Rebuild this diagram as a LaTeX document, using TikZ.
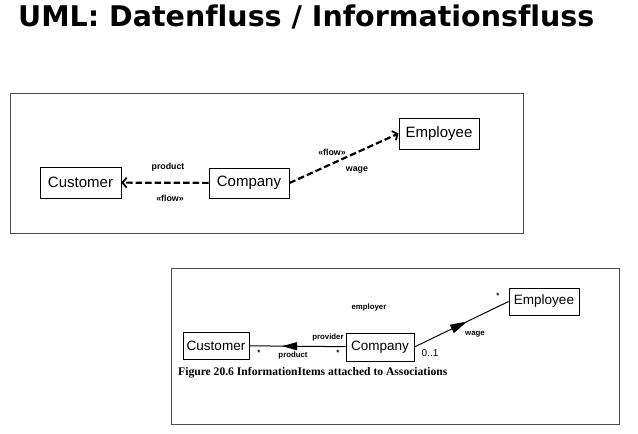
\documentclass[tikz,border=0pt]{standalone}
\usepackage{fontspec}
\setmainfont{Liberation Sans}
\newfontfamily\titlefont[Ligatures=NoCommon]{DejaVu Sans}
\newfontfamily\capfont{Liberation Serif}
\usetikzlibrary{arrows.meta,decorations.markings}

\begin{document}
\begin{tikzpicture}[x=1pt, y=-1pt,
  class/.style={draw, inner sep=0pt, line width=0.9pt, font=\fontsize{15}{15}\selectfont},
  small class/.style={draw, inner sep=0pt, line width=0.8pt, font=\fontsize{13.5}{13.5}\selectfont},
  lbl/.style={inner sep=0pt, font=\bfseries\fontsize{8.8}{9}\selectfont},
  small lbl/.style={inner sep=0pt, font=\bfseries\fontsize{7.8}{8}\selectfont},
  frame/.style={draw=black!70, line width=0.8pt},
  flow/.style={line width=2.2pt, dash pattern=on 6.5pt off 3pt,
               -{Straight Barb[length=4pt,width=10pt,line width=1.8pt]}},
  assoc/.style={line width=1pt, postaction={decorate}}]

\useasboundingbox (0,0) rectangle (638,434);

% title
\node[anchor=base west, inner sep=0pt, font=\titlefont\bfseries\fontsize{28.5}{30}\selectfont]
  (title) at (18,26) {UML: Datenfluss / Informationsfluss};

% information flow
\draw[frame] (10,93) rectangle (523,233);

\node[class, minimum width=81pt, minimum height=31pt] (customer) at (80.5,182.5) {Customer};
\node[class, minimum width=80pt, minimum height=30pt] (company) at (249,183) {Company};
\node[class, minimum width=80pt, minimum height=31pt] (employee) at (439,133.5) {Employee};

\draw[flow] (company) -- (customer);
\draw[flow] (company.east) -- (employee.west);

\node[lbl] (product) at (168,167) {product};
\node[lbl] (flowa) at (170,198) {«flow»};
\node[lbl] (flowb) at (332,152) {«flow»};
\node[lbl] (wage) at (357,170) {wage};

% information items on associations
\draw[frame] (171,268) rectangle (619,424);

\node[small class, minimum width=66pt, minimum height=27pt] (customer2) at (216,345.5) {Customer};
\node[small class, minimum width=68pt, minimum height=28pt] (company2) at (380,347) {Company};
\node[small class, minimum width=70pt, minimum height=27pt] (employee2) at (544,301.5) {Employee};

\draw[assoc, decoration={markings,
    mark=at position 0.66 with {\arrow{Triangle[length=15pt,width=8pt]}}}]
  (company2) -- (customer2);
\draw[assoc, decoration={markings,
    mark=at position 0.56 with {\arrow{Triangle[length=17pt,width=9pt]}}}]
  (company2.east) -- (employee2.west);

\node[small lbl] (provider) at (328,337) {provider};
\node[small lbl] (product2) at (293,355) {product};
\node[small lbl] (stara) at (259,353) {*};
\node[small lbl] (starb) at (338,353) {*};
\node[small lbl] (employer) at (369,307) {employer};
\node[small lbl] (wage2) at (475,334) {wage};
\node[small lbl] (starc) at (498,296) {*};
\node[inner sep=0pt, font=\fontsize{10}{10}\selectfont] (mult) at (430,353) {0..1};

\node[anchor=west, inner sep=0pt, font=\capfont\bfseries\fontsize{11.6}{12}\selectfont]
  (caption) at (178,373) {Figure 20.6 InformationItems attached to Associations};

\end{tikzpicture}
\end{document}
